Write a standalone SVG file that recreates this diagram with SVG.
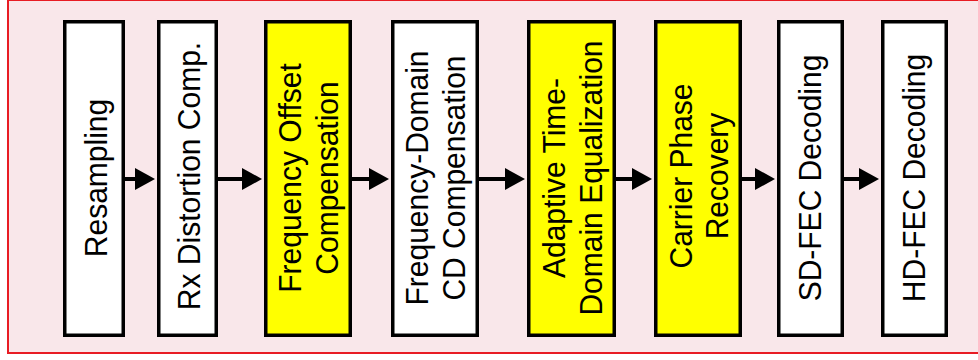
<svg xmlns="http://www.w3.org/2000/svg" width="978" height="360" viewBox="0 0 978 360">
  <style>
    .box { stroke: #000; stroke-width: 3.5; }
    .w { fill: #fff; }
    .y { fill: #ffff00; }
    .t { font-family: "Liberation Sans", Arial, sans-serif; font-size: 30px; fill: #000; text-anchor: middle; }
    .ln { stroke: #000; stroke-width: 4; fill: none; }
    .ah { fill: #000; }
  </style>
  <rect x="8" y="0" width="975" height="353" fill="#f9e7ea" stroke="#e81c24" stroke-width="2"/>
  <g id="connectors">
    <line class="ln" x1="125" y1="179" x2="137" y2="179"/><polygon class="ah" points="135,168 155,179 135,190"/>
    <line class="ln" x1="218" y1="179" x2="244" y2="179"/><polygon class="ah" points="242,168 262,179 242,190"/>
    <line class="ln" x1="352" y1="179" x2="371" y2="179"/><polygon class="ah" points="369,168 389,179 369,190"/>
    <line class="ln" x1="479" y1="179" x2="507" y2="179"/><polygon class="ah" points="505,168 525,179 505,190"/>
    <line class="ln" x1="616" y1="179" x2="634" y2="179"/><polygon class="ah" points="632,168 652,179 632,190"/>
    <line class="ln" x1="742" y1="179" x2="757" y2="179"/><polygon class="ah" points="755,168 775,179 755,190"/>
    <line class="ln" x1="844" y1="179" x2="861" y2="179"/><polygon class="ah" points="859,168 879,179 859,190"/>
  </g>
  <g id="resampling">
    <rect class="box w" x="64.75" y="21.75" width="58.5" height="313.5"/>
    <text class="t" transform="translate(107,178) rotate(-90) scale(1,1.06)">Resampling</text>
  </g>
  <g id="rx-distortion">
    <rect class="box w" x="158.75" y="21.75" width="57.5" height="313.5"/>
    <text class="t" transform="translate(200,176) rotate(-90) scale(1,1.06)">Rx Distortion Comp.</text>
  </g>
  <g id="freq-offset">
    <rect class="box y" x="265.75" y="21.75" width="84.5" height="313.5"/>
    <text class="t" transform="translate(301,178) rotate(-90) scale(1,1.06)">Frequency Offset</text>
    <text class="t" transform="translate(338,178) rotate(-90) scale(1,1.06)">Compensation</text>
  </g>
  <g id="fd-cd">
    <rect class="box w" x="392.75" y="21.75" width="84.5" height="313.5"/>
    <text class="t" transform="translate(428,178) rotate(-90) scale(1,1.06)">Frequency-Domain</text>
    <text class="t" transform="translate(465,178) rotate(-90) scale(1,1.06)">CD Compensation</text>
  </g>
  <g id="adaptive">
    <rect class="box y" x="528.75" y="21.75" width="85.5" height="313.5"/>
    <text class="t" transform="translate(565,178) rotate(-90) scale(1,1.06)">Adaptive Time-</text>
    <text class="t" transform="translate(602,178) rotate(-90) scale(1,1.06)">Domain Equalization</text>
  </g>
  <g id="carrier-phase">
    <rect class="box y" x="655.75" y="21.75" width="84.5" height="313.5"/>
    <text class="t" transform="translate(692,176) rotate(-90) scale(1,1.06)">Carrier Phase</text>
    <text class="t" transform="translate(728,176) rotate(-90) scale(1,1.06)">Recovery</text>
  </g>
  <g id="sd-fec">
    <rect class="box w" x="778.75" y="21.75" width="63.5" height="313.5"/>
    <text class="t" transform="translate(821,178) rotate(-90) scale(1,1.06)">SD-FEC Decoding</text>
  </g>
  <g id="hd-fec">
    <rect class="box w" x="882.75" y="21.75" width="63.5" height="313.5"/>
    <text class="t" transform="translate(925,178) rotate(-90) scale(1,1.06)">HD-FEC Decoding</text>
  </g>
</svg>
